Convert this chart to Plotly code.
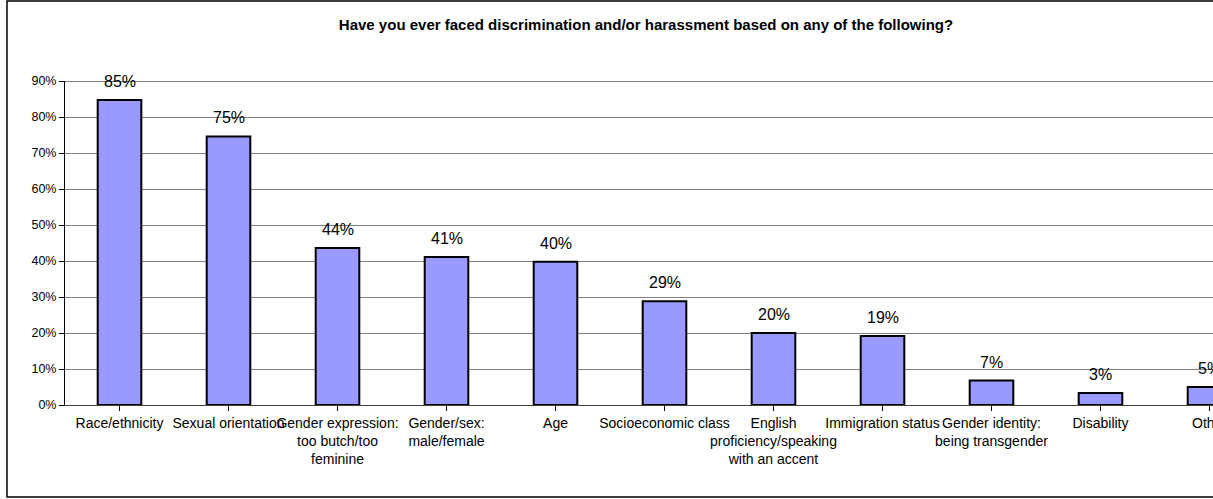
import plotly.graph_objects as go

categories = [
    "Race/ethnicity", "Sexual orientation",
    "Gender expression:<br>too butch/too<br>feminine",
    "Gender/sex:<br>male/female", "Age", "Socioeconomic class",
    "English<br>proficiency/speaking<br>with an accent",
    "Immigration status", "Gender identity:<br>being transgender",
    "Disability", "Other",
]
values = [84.7, 74.6, 43.6, 41.1, 39.8, 28.8, 20.0, 19.2, 6.8, 3.3, 5.0]
labels = ["85%", "75%", "44%", "41%", "40%", "29%", "20%", "19%", "7%", "3%", "5%"]
yticks = [0, 10, 20, 30, 40, 50, 60, 70, 80, 90]
ytick_text = [f"{v}%" for v in yticks]
title = "Have you ever faced discrimination and/or harassment based on any of the following?"

x = list(range(len(categories)))

fig = go.Figure()
fig.add_trace(go.Bar(
    x=x, y=values, width=0.4,
    marker=dict(color="#9999FF", line=dict(color="black", width=2)),
    hoverinfo="skip",
))

for xi, v, t in zip(x, values, labels):
    fig.add_annotation(x=xi, y=v, text=t, showarrow=False, yanchor="bottom",
                       yshift=8, font=dict(family="Arial, Liberation Sans", size=16, color="black"))

W, H = 1213, 499
L, R, T, B = 65, 1213, 81, 405
fig.update_layout(
    width=W, height=H,
    margin=dict(l=L, r=W - R, t=T, b=H - B, pad=0),
    paper_bgcolor="white", plot_bgcolor="white",
    showlegend=False,
    font=dict(family="Arial, Liberation Sans", color="black"),
    title=dict(text="<b>" + title + "</b>", x=646 / W, xanchor="center",
               y=1 - 25 / H, yanchor="middle",
               font=dict(size=15, color="black")),
    bargap=0.6,
)
fig.update_xaxes(
    tickmode="array", tickvals=x, ticktext=categories,
    range=[-0.5, -0.5 + (R - L) / 109.0],
    tickson="boundaries", ticks="outside", ticklen=5, tickcolor="black",
    showline=True, linecolor="#404040", linewidth=1,
    showgrid=False, tickangle=0, automargin=False,
    ticklabeloverflow="allow",
    tickfont=dict(size=14, color="black"),
)
fig.update_yaxes(
    range=[0, 90], tickmode="array", tickvals=yticks, ticktext=ytick_text,
    ticks="outside", ticklen=5, tickcolor="black",
    showline=True, linecolor="black", linewidth=1,
    showgrid=True, gridcolor="#808080", gridwidth=1,
    zeroline=False, automargin=False,
    tickfont=dict(size=12.5, color="black"),
)
# thicker top gridline
fig.add_shape(type="line", xref="paper", yref="y", x0=0, x1=1, y0=90, y1=90,
              line=dict(color="#808080", width=2), layer="below")
# outer chart border
pw, ph = R - L, B - T
fig.add_shape(type="rect", xref="paper", yref="paper",
              x0=(7 - L) / pw, x1=(W + 5 - L) / pw,
              y0=(B - 497) / ph, y1=(B - 1) / ph,
              line=dict(color="black", width=1.5), fillcolor="rgba(0,0,0,0)")

fig.write_html("out.html", config={"displayModeBar": False},
               post_script="document.body.style.margin='0px';")
